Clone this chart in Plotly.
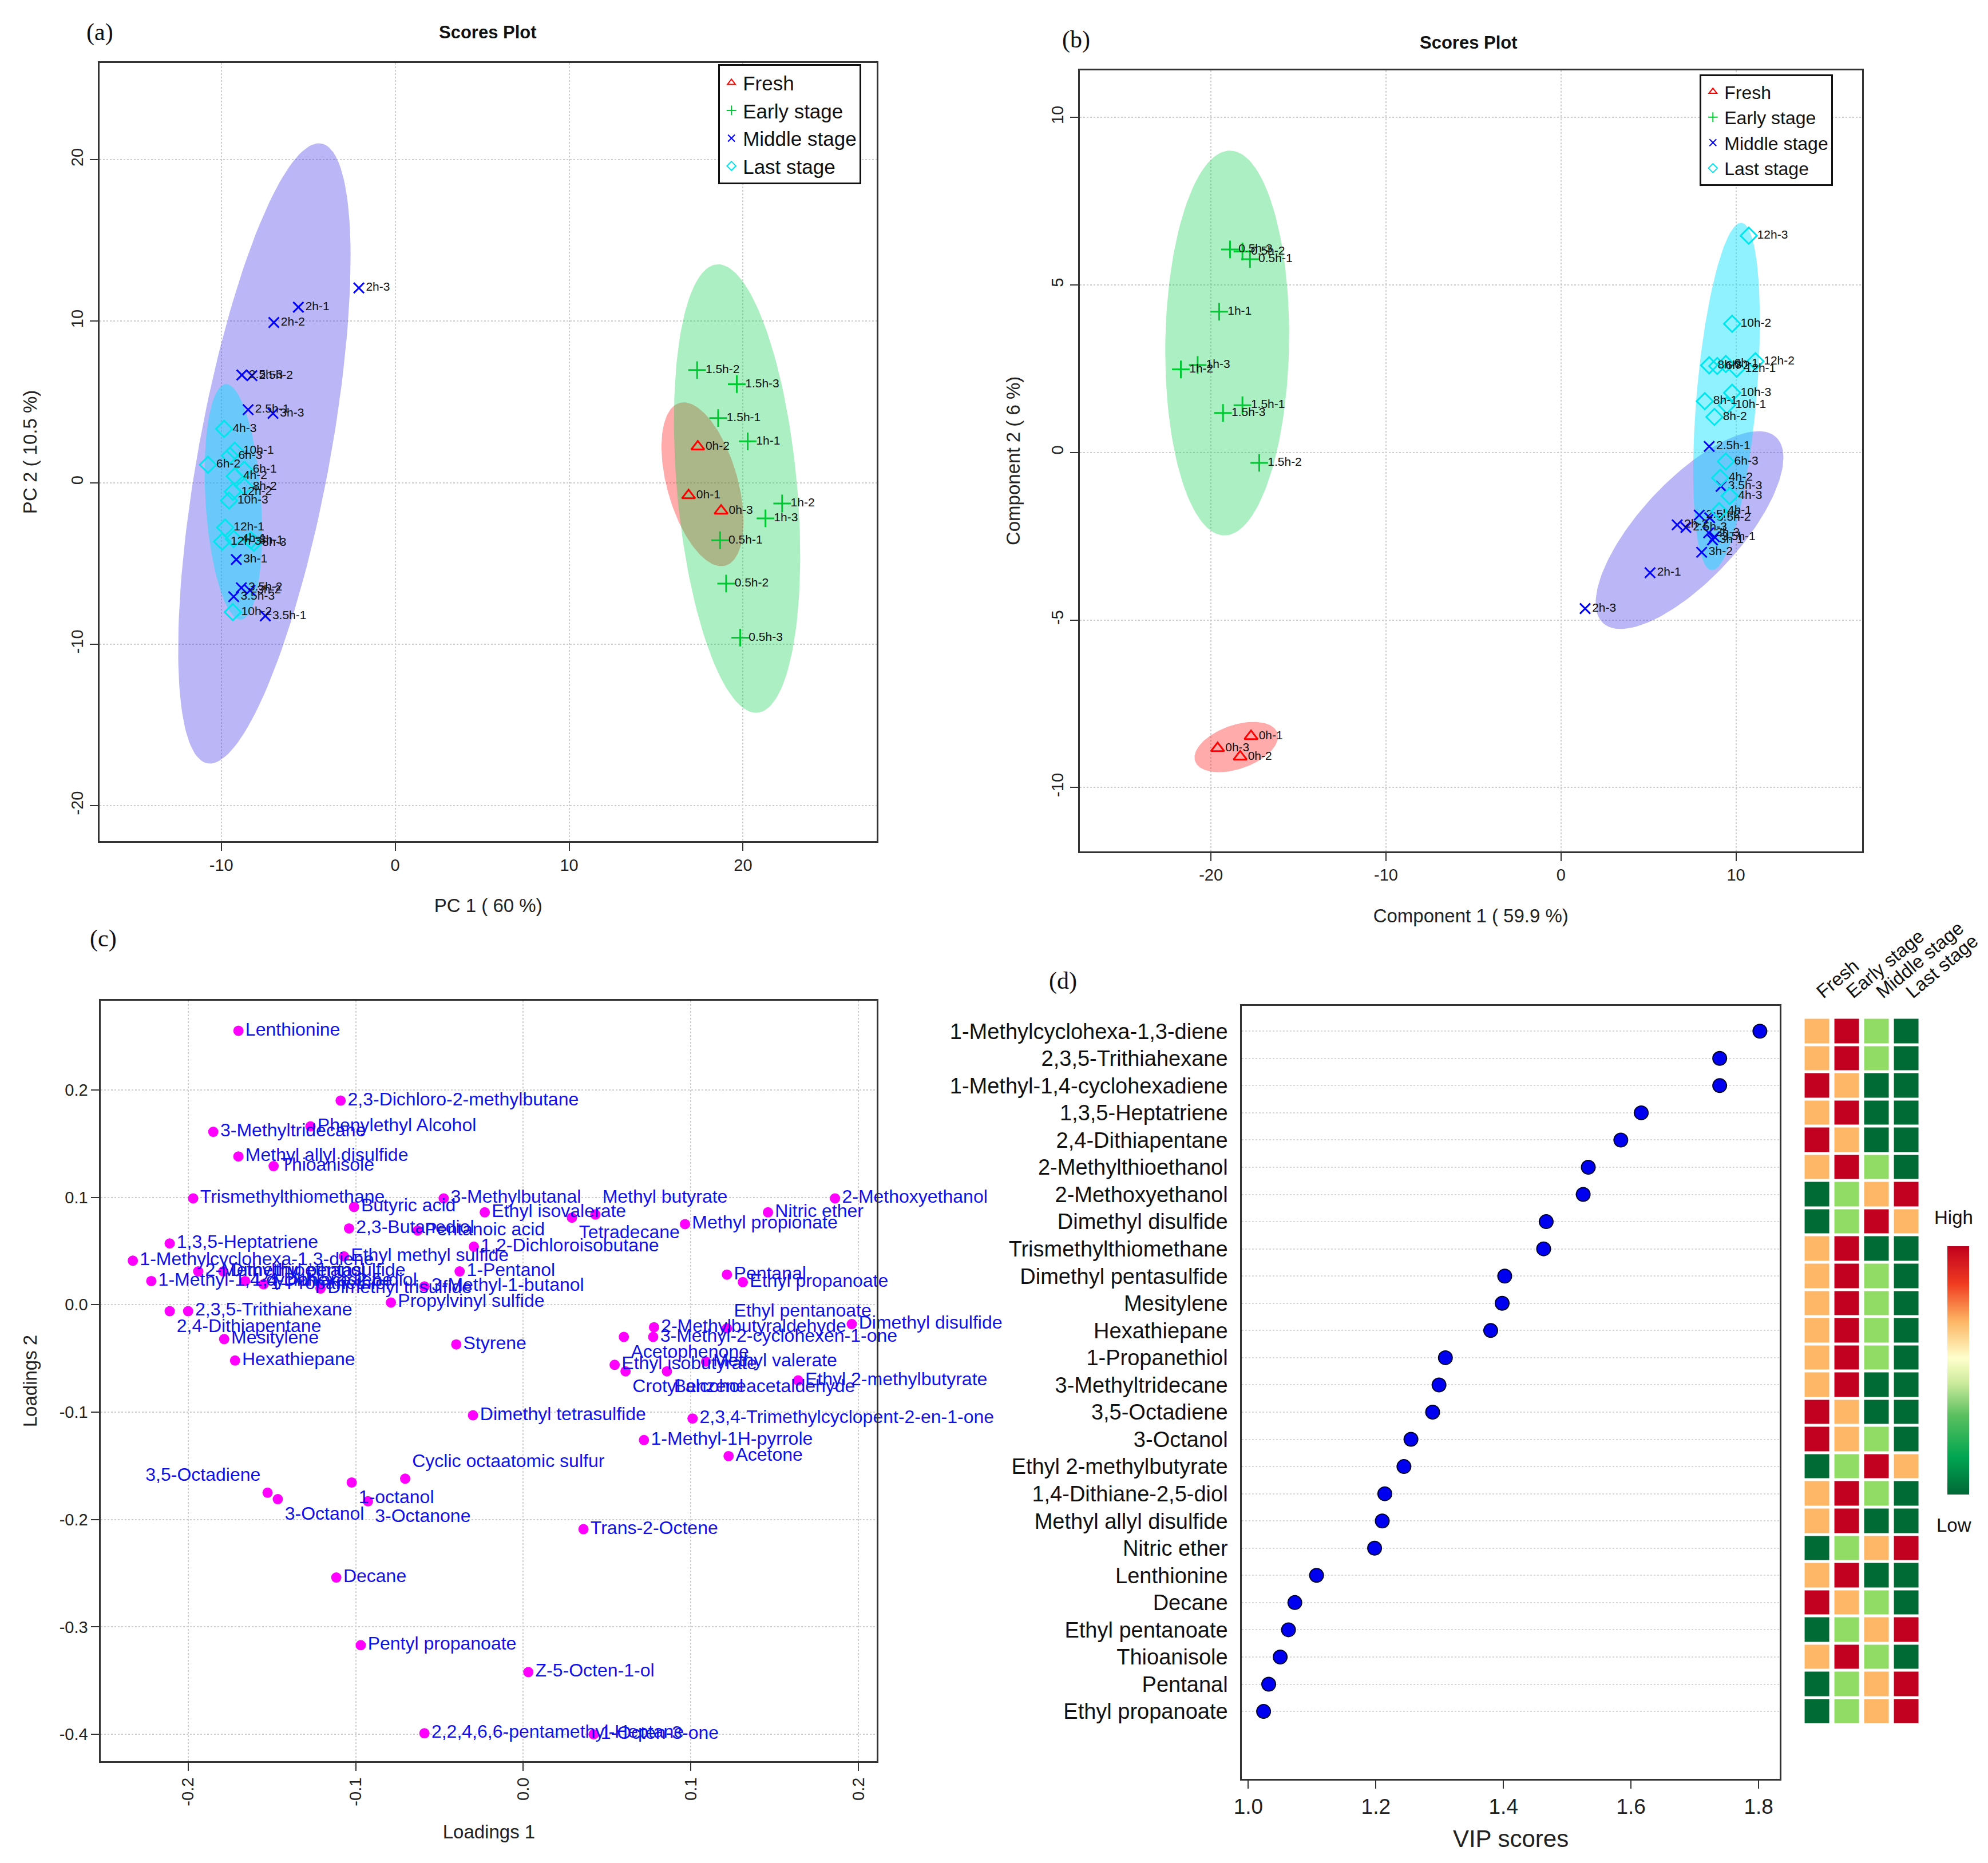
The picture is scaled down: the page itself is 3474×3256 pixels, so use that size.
import numpy as np
import plotly.graph_objects as go

W, H = 3474, 3256

# ---- group names / sample labels (shared by panels a and b)
groups = ["Fresh", "Early stage", "Middle stage", "Last stage"]
fresh_labels = ["0h-1", "0h-2", "0h-3"]
early_labels = ["0.5h-1", "0.5h-2", "0.5h-3", "1h-1", "1h-2", "1h-3", "1.5h-1", "1.5h-2", "1.5h-3"]
middle_labels = ["2h-1", "2h-2", "2h-3", "2.5h-1", "2.5h-2", "2.5h-3",
                 "3h-1", "3h-2", "3h-3", "3.5h-1", "3.5h-2", "3.5h-3"]
last_labels = ["4h-1", "4h-2", "4h-3", "6h-1", "6h-2", "6h-3", "8h-1", "8h-2", "8h-3",
               "10h-1", "10h-2", "10h-3", "12h-1", "12h-2", "12h-3"]

# ---- (a) PCA scores
a_fresh_x = [16.87, 17.40, 18.74]
a_fresh_y = [-0.79, 2.23, -1.74]
a_early_x = [18.68, 19.03, 19.84, 20.27, 22.25, 21.29, 18.57, 17.36, 19.64]
a_early_y = [-3.57, -6.25, -9.60, 2.56, -1.29, -2.21, 4.00, 6.97, 6.10]
a_middle_x = [-5.57, -6.98, -2.09, -8.46, -8.24, -8.82, -9.14, -8.35, -7.03, -7.47, -8.85, -9.29]
a_middle_y = [10.87, 9.92, 12.06, 4.52, 6.63, 6.67, -4.76, -6.67, 4.29, -8.25, -6.51, -7.06]
a_last_x = [-9.29, -9.23, -9.84, -8.68, -10.77, -9.51, -8.30, -8.68, -8.13,
            -9.23, -9.34, -9.56, -9.78, -9.34, -9.95]
a_last_y = [-3.49, 0.40, 3.33, 0.79, 1.11, 1.67, -3.57, -0.24, -3.73,
            1.98, -8.02, -1.11, -2.78, -0.56, -3.65]

# ---- (b) PLS-DA scores
b_fresh_x = [-17.71, -18.33, -19.62]
b_fresh_y = [-8.47, -9.08, -8.83]
b_early_x = [-17.77, -18.20, -18.91, -19.53, -21.72, -20.76, -18.20, -17.24, -19.31]
b_early_y = [5.77, 6.00, 6.06, 4.20, 2.48, 2.61, 1.41, -0.31, 1.18]
b_middle_x = [5.09, 6.64, 1.38, 8.47, 7.90, 7.14, 8.66, 8.04, 8.44, 8.77, 8.50, 9.15]
b_middle_y = [-3.59, -2.16, -4.66, 0.18, -1.87, -2.24, -2.61, -2.98, -2.40, -2.52, -1.95, -1.01]
b_last_x = [9.04, 9.10, 9.64, 9.42, 8.93, 9.42, 8.22, 8.77, 8.47,
            9.48, 9.78, 9.78, 10.04, 11.11, 10.73]
b_last_y = [-1.75, -0.76, -1.30, 2.64, 2.58, -0.27, 1.53, 1.06, 2.60,
            1.41, 3.84, 1.78, 2.50, 2.72, 6.47]

# ---- (c) loadings
loading_names = [
    "Lenthionine", "2,3-Dichloro-2-methylbutane", "3-Methyltridecane", "Phenylethyl Alcohol",
    "Methyl allyl disulfide", "Thioanisole", "Trismethylthiomethane", "Butyric acid",
    "3-Methylbutanal", "Methyl butyrate", "Ethyl isovalerate", "Tetradecane",
    "Methyl propionate", "Nitric ether", "2-Methoxyethanol", "2,3-Butanediol",
    "Pentanoic acid", "1,2-Dichloroisobutane", "1,3,5-Heptatriene", "1-Methylcyclohexa-1,3-diene",
    "Ethyl methyl sulfide", "1-Pentanol", "2-Methylthioethanol", "Dimethyl pentasulfide",
    "1-Methyl-1,4-cyclohexadiene", "1,4-Dithiane-2,5-diol", "1-Propanethiol", "Dimethyl trisulfide",
    "3-Methyl-1-butanol", "Propylvinyl sulfide", "2,3,5-Trithiahexane", "2,4-Dithiapentane",
    "Mesitylene", "Hexathiepane", "Styrene", "Pentanal",
    "Ethyl propanoate", "Ethyl pentanoate", "2-Methylbutyraldehyde", "Dimethyl disulfide",
    "3-Methyl-2-cyclohexen-1-one", "Acetophenone", "Methyl valerate", "Ethyl isobutyrate",
    "Crotyl alcohol", "Benzeneacetaldehyde", "Ethyl 2-methylbutyrate", "Dimethyl tetrasulfide",
    "2,3,4-Trimethylcyclopent-2-en-1-one", "1-Methyl-1H-pyrrole", "Acetone", "Cyclic octaatomic sulfur",
    "3,5-Octadiene", "1-octanol", "3-Octanol", "3-Octanone",
    "Trans-2-Octene", "Decane", "Pentyl propanoate", "Z-5-Octen-1-ol",
    "2,2,4,6,6-pentamethyl-Heptane", "1-Octen-3-one",
]
loading_x = [
    -0.170, -0.109, -0.185, -0.127, -0.170, -0.149, -0.197, -0.101,
    -0.0475, 0.043, -0.023, 0.029, 0.0965, 0.146, 0.186, -0.104,
    -0.063, -0.0295, -0.211, -0.233, -0.107, -0.038, -0.194, -0.179,
    -0.222, -0.166, -0.155, -0.121, -0.059, -0.079, -0.200, -0.211,
    -0.1785, -0.172, -0.040, 0.1215, 0.131, 0.1215, 0.078, 0.196,
    0.0775, 0.060, 0.109, 0.0545, 0.061, 0.0857, 0.164, -0.030,
    0.101, 0.072, 0.1225, -0.0705, -0.1526, -0.1024, -0.1465, -0.0927,
    0.0359, -0.1116, -0.097, 0.003, -0.059, 0.042,
]
loading_y = [
    0.255, 0.190, 0.161, 0.166, 0.138, 0.129, 0.099, 0.091,
    0.099, 0.084, 0.086, 0.081, 0.075, 0.086, 0.099, 0.071,
    0.069, 0.054, 0.057, 0.041, 0.045, 0.031, 0.031, 0.031,
    0.022, 0.022, 0.019, 0.015, 0.017, 0.002, -0.006, -0.006,
    -0.032, -0.052, -0.037, 0.028, 0.021, -0.022, -0.021, -0.018,
    -0.030, -0.030, -0.053, -0.056, -0.062, -0.062, -0.0705, -0.103,
    -0.106, -0.126, -0.141, -0.162, -0.175, -0.1655, -0.181, -0.183,
    -0.209, -0.254, -0.317, -0.342, -0.399, -0.400,
]
# label placement tweaks (style only)
label_pos = {
    "Methyl butyrate": "top right", "Tetradecane": "bottom right",
    "2,4-Dithiapentane": "bottom right", "Ethyl pentanoate": "top right",
    "Acetophenone": "bottom right", "Crotyl alcohol": "bottom right",
    "Benzeneacetaldehyde": "bottom right", "Cyclic octaatomic sulfur": "top right",
    "3,5-Octadiene": "top left", "1-octanol": "bottom right",
    "3-Octanol": "bottom right", "3-Octanone": "bottom right",
}

# ---- (d) VIP scores and group levels (1 = low ... 4 = high)
vip_names = [
    "1-Methylcyclohexa-1,3-diene", "2,3,5-Trithiahexane", "1-Methyl-1,4-cyclohexadiene",
    "1,3,5-Heptatriene", "2,4-Dithiapentane", "2-Methylthioethanol", "2-Methoxyethanol",
    "Dimethyl disulfide", "Trismethylthiomethane", "Dimethyl pentasulfide", "Mesitylene",
    "Hexathiepane", "1-Propanethiol", "3-Methyltridecane", "3,5-Octadiene", "3-Octanol",
    "Ethyl 2-methylbutyrate", "1,4-Dithiane-2,5-diol", "Methyl allyl disulfide", "Nitric ether",
    "Lenthionine", "Decane", "Ethyl pentanoate", "Thioanisole", "Pentanal", "Ethyl propanoate",
]
vip_scores = [1.802, 1.739, 1.739, 1.616, 1.584, 1.533, 1.525, 1.467, 1.463, 1.402, 1.398,
              1.380, 1.309, 1.299, 1.289, 1.255, 1.244, 1.214, 1.210, 1.198, 1.107, 1.073,
              1.063, 1.050, 1.032, 1.024]
fresh_level = [3, 3, 4, 3, 4, 3, 1, 1, 3, 3, 3, 3, 3, 3, 4, 4, 1, 3, 3, 1, 3, 4, 1, 3, 1, 1]
early_level = [4, 4, 3, 4, 3, 4, 2, 2, 4, 4, 4, 4, 4, 4, 3, 3, 2, 4, 4, 2, 4, 3, 2, 4, 2, 2]
middle_level = [2, 2, 1, 1, 1, 2, 3, 4, 1, 2, 2, 2, 2, 1, 1, 2, 4, 2, 1, 3, 1, 2, 3, 2, 3, 3]
last_level = [1, 1, 1, 1, 1, 1, 4, 3, 1, 1, 1, 1, 1, 1, 1, 1, 3, 1, 1, 4, 1, 1, 4, 1, 4, 4]

# ---- styling
pt_color = ["#FF0000", "#00C832", "#0000FF", "#00E5EE"]
fill_color = ["rgba(255,0,0,0.33)", "rgba(0,205,70,0.33)",
              "rgba(60,50,230,0.35)", "rgba(0,225,255,0.43)"]
pt_symbol = ["triangle-up-open", "cross-thin-open", "x-thin-open", "diamond-open"]
pt_size = [20, 22, 18, 22]
SANS = "Liberation Sans, Arial, sans-serif"
NARROW = "Liberation Sans Narrow, Liberation Sans, Arial, sans-serif"
SERIF = "Liberation Serif, Times New Roman, serif"


def conf_ellipse(x, y, n=160):
    pts = np.column_stack([x, y])
    mu = pts.mean(axis=0)
    vals, vecs = np.linalg.eigh(np.cov(pts, rowvar=False))
    t = np.linspace(0, 2 * np.pi, n)
    circ = np.vstack([np.cos(t), np.sin(t)])
    ell = vecs @ (np.sqrt(np.clip(vals, 0, None))[:, None] * circ) * np.sqrt(5.991)
    return mu[0] + ell[0], mu[1] + ell[1]


fig = go.Figure()

score_sets = {
    ("x", "y", "legend"): [(a_fresh_x, a_fresh_y), (a_early_x, a_early_y),
                           (a_middle_x, a_middle_y), (a_last_x, a_last_y)],
    ("x2", "y2", "legend2"): [(b_fresh_x, b_fresh_y), (b_early_x, b_early_y),
                              (b_middle_x, b_middle_y), (b_last_x, b_last_y)],
}
all_labels = [fresh_labels, early_labels, middle_labels, last_labels]

for (xa, ya, leg), sets in score_sets.items():
    # ellipses first
    for i, (gx, gy) in enumerate(sets):
        ex, ey = conf_ellipse(gx, gy)
        fig.add_trace(go.Scatter(x=ex, y=ey, mode="lines", fill="toself",
                                 fillcolor=fill_color[i], line=dict(width=0),
                                 xaxis=xa, yaxis=ya, showlegend=False, hoverinfo="skip"))
    for i, (gx, gy) in enumerate(sets):
        fig.add_trace(go.Scatter(
            x=gx, y=gy, mode="markers+text", text=all_labels[i],
            textposition="middle right", textfont=dict(size=21, color="#111", family=SANS),
            marker=dict(symbol=pt_symbol[i], size=pt_size[i], color=pt_color[i],
                        line=dict(width=3, color=pt_color[i])),
            name=groups[i], xaxis=xa, yaxis=ya, legend=leg))

# (c) loadings
fig.add_trace(go.Scatter(
    x=loading_x, y=loading_y, mode="markers+text", text=loading_names,
    textposition=[label_pos.get(n, "middle right") for n in loading_names],
    textfont=dict(size=32, color="#1010E8", family=NARROW),
    marker=dict(size=18, color="#FF00FF"), xaxis="x3", yaxis="y3", showlegend=False,
    cliponaxis=False))

# (d) VIP dot chart
rows = list(range(len(vip_names)))
fig.add_trace(go.Scatter(
    x=vip_scores, y=rows, mode="markers",
    marker=dict(size=24, color="#0000F0", line=dict(width=2, color="#000030")),
    xaxis="x4", yaxis="y4", showlegend=False))

# heatmap of group levels
z = [list(r) for r in zip(fresh_level, early_level, middle_level, last_level)]
level_colors = ["#006B35", "#90DC64", "#FDB766", "#C2001F"]
cs = []
for k, c in enumerate(level_colors):
    cs += [[k / 4, c], [(k + 1) / 4, c]]
fig.add_trace(go.Heatmap(z=z, x=groups, y=rows, colorscale=cs, zmin=0.5, zmax=4.5,
                         showscale=False, xgap=9, ygap=5, xaxis="x5", yaxis="y5",
                         hoverinfo="skip"))

# High/Low colour key
grad = [[0.0, "#006837"], [0.15, "#00A651"], [0.32, "#5CC060"], [0.45, "#CDEB9C"],
        [0.55, "#FFFFCC"], [0.7, "#FDB462"], [0.85, "#F03B20"], [1.0, "#C0001E"]]
fig.add_trace(go.Scatter(
    x=[None], y=[None], mode="markers", xaxis="x4", yaxis="y4", showlegend=False,
    marker=dict(color=[0], cmin=0, cmax=1, colorscale=grad, showscale=True,
                colorbar=dict(x=0.9745, xanchor="left", y=0.267, yanchor="middle",
                              len=0.1395, lenmode="fraction", thickness=38,
                              outlinewidth=0, showticklabels=False, ticks=""))))


def box_axis(**kw):
    base = dict(showline=True, linecolor="#333", linewidth=3, mirror=True,
                ticks="outside", ticklen=14, tickwidth=2, tickcolor="#333",
                showgrid=True, gridcolor="#cdcdcd", griddash="dot", gridwidth=2,
                zeroline=False, automargin=False,
                tickfont=dict(size=29, color="#222", family=SANS),
                title_font=dict(size=33, color="#222", family=SANS))
    base.update(kw)
    return base


def ticks(vals, fmt="{:g}"):
    return dict(tickvals=vals, ticktext=[fmt.format(v) for v in vals])


a_xt, a_yt = [-10, 0, 10, 20], [-20, -10, 0, 10, 20]
b_xt, b_yt = [-20, -10, 0, 10], [-10, -5, 0, 5, 10]
c_xt, c_yt = [-0.2, -0.1, 0.0, 0.1, 0.2], [-0.4, -0.3, -0.2, -0.1, 0.0, 0.1, 0.2]
d_xt = [1.0, 1.2, 1.4, 1.6, 1.8]

d_dom = [0.0476, 0.4626]
fig.update_layout(
    width=W, height=H, margin=dict(l=0, r=0, t=0, b=0),
    paper_bgcolor="white", plot_bgcolor="white",
    font=dict(family=SANS, color="#111"),
    xaxis=box_axis(domain=[0.0478, 0.4388], range=[-17.0, 27.7], anchor="y",
                   title=dict(text="PC 1 ( 60 %)", standoff=45), **ticks(a_xt)),
    yaxis=box_axis(domain=[0.551, 0.9687], range=[-22.2, 26.0], anchor="x", tickangle=-90,
                   title=dict(text="PC 2 ( 10.5 %)", standoff=45), **ticks(a_yt)),
    xaxis2=box_axis(domain=[0.5408, 0.9343], range=[-27.5, 17.2], anchor="y2",
                    title=dict(text="Component 1 ( 59.9 %)", standoff=45), **ticks(b_xt)),
    yaxis2=box_axis(domain=[0.5456, 0.9646], range=[-11.9, 11.4], anchor="x2", tickangle=-90,
                    title=dict(text="Component 2 ( 6 %)", standoff=40), **ticks(b_yt)),
    xaxis3=box_axis(domain=[0.0485, 0.4388], range=[-0.252, 0.211], anchor="y3", tickangle=-90,
                    title=dict(text="Loadings 1", standoff=35), **ticks(c_xt, "{:.1f}")),
    yaxis3=box_axis(domain=[0.0571, 0.4653], range=[-0.425, 0.283], anchor="x3",
                    title=dict(text="Loadings 2", standoff=30), **ticks(c_yt, "{:.1f}")),
    xaxis4=box_axis(domain=[0.6224, 0.8929], range=[0.99, 1.833], anchor="y4", showgrid=False,
                    tickfont=dict(size=37, color="#222", family=SANS),
                    title=dict(text="VIP scores", standoff=22,
                               font=dict(size=42, color="#222", family=SANS)),
                    **ticks(d_xt, "{:.1f}")),
    yaxis4=box_axis(domain=d_dom, range=[27.48, -0.935], anchor="x4", ticks="",
                    tickvals=rows, ticktext=vip_names, gridcolor="#d8d8d8",
                    ticklabelstandoff=14,
                    tickfont=dict(size=38, color="#111", family=SANS)),
    xaxis5=dict(domain=[0.9043, 0.9643], range=[-0.5, 3.5], anchor="y5", side="top",
                tickangle=-40, showgrid=False, zeroline=False, showline=False, ticks="",
                automargin=False, tickfont=dict(size=33, color="#111", family=SANS)),
    yaxis5=dict(domain=d_dom, matches="y4", anchor="x5", showticklabels=False,
                showgrid=False, zeroline=False, showline=False, ticks="", automargin=False),
    legend=dict(x=0.359, y=0.968, xanchor="left", yanchor="top", bgcolor="white",
                bordercolor="#111", borderwidth=3, font=dict(size=35, family=SANS),
                itemsizing="constant", tracegroupgap=0),
    legend2=dict(x=0.8527, y=0.9626, xanchor="left", yanchor="top", bgcolor="white",
                 bordercolor="#111", borderwidth=3, font=dict(size=32, family=SANS),
                 itemsizing="constant", tracegroupgap=0),
)

notes = [
    ("(a)", 0.0478, 0.985, 42, SERIF, False),
    ("(b)", 0.539, 0.981, 42, SERIF, False),
    ("(c)", 0.0497, 0.4986, 42, SERIF, False),
    ("(d)", 0.5325, 0.476, 42, SERIF, False),
    ("Scores Plot", 0.243, 0.985, 31, SANS, True),
    ("Scores Plot", 0.7366, 0.9796, 31, SANS, True),
    ("High", 0.9805, 0.349, 33, SANS, False),
    ("Low", 0.9805, 0.1837, 33, SANS, False),
]
for txt, x, y, size, fam, bold in notes:
    fig.add_annotation(x=x, y=y, xref="paper", yref="paper", showarrow=False,
                       text=f"<b>{txt}</b>" if bold else txt,
                       font=dict(size=size, family=fam, color="#111"),
                       xanchor="center", yanchor="middle")

fig.write_html("out.html")
